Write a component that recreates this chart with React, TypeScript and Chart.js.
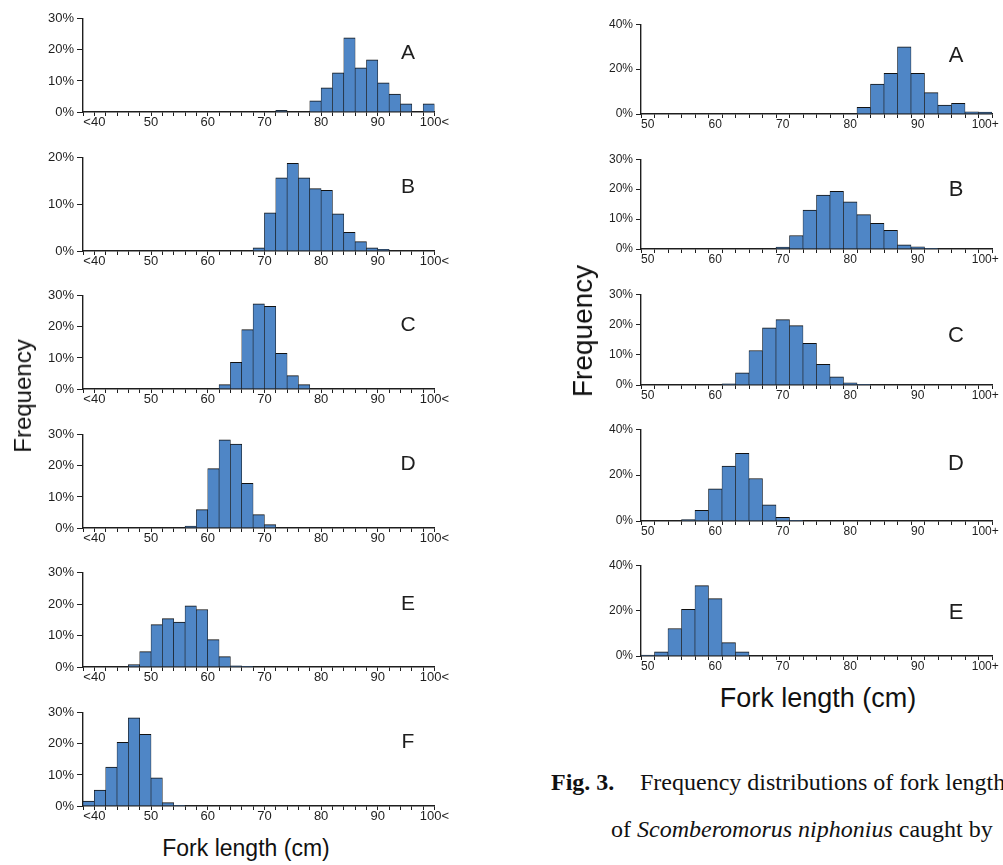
import React, { useEffect, useRef } from 'react';
import { Chart, registerables } from 'chart.js';

Chart.register(...registerables);

// ---------- categories & tick labels ----------
const leftCategories = ['<40', '42', '44', '46', '48', '50', '52', '54', '56', '58', '60', '62', '64', '66', '68', '70', '72', '74', '76', '78', '80', '82', '84', '86', '88', '90', '92', '94', '96', '98', '100'];
const leftTickLabels = ['<40', '50', '60', '70', '80', '90', '100<'];
const rightCategories = ['50', '52', '54', '56', '58', '60', '62', '64', '66', '68', '70', '72', '74', '76', '78', '80', '82', '84', '86', '88', '90', '92', '94', '96', '98', '100+'];
const rightTickLabels = ['50', '60', '70', '80', '90', '100+'];

// ---------- left column series (%), 31 bins ----------
const leftA = [0, 0, 0, 0, 0, 0, 0, 0, 0, 0, 0, 0, 0, 0, 0, 0, 0, 0.5, 0, 0, 3.6, 7.8, 12.6, 23.9, 14.2, 16.8, 9.4, 5.8, 2.6, 0, 2.6];
const leftB = [0, 0, 0, 0, 0, 0, 0, 0, 0, 0, 0, 0, 0, 0, 0, 0.7, 8.2, 15.7, 18.8, 15.7, 13.4, 13.0, 8.0, 4.0, 2.0, 0.7, 0.35, 0, 0, 0, 0];
const leftC = [0, 0, 0, 0, 0, 0, 0, 0, 0, 0, 0, 0, 1.4, 8.6, 19.1, 27.4, 26.6, 11.5, 4.3, 1.4, 0, 0, 0, 0, 0, 0, 0, 0, 0, 0, 0];
const leftD = [0, 0, 0, 0, 0, 0, 0, 0, 0, 0.6, 5.9, 19.1, 28.4, 27.0, 14.4, 4.3, 1.1, 0, 0, 0, 0, 0, 0, 0, 0, 0, 0, 0, 0, 0, 0];
const leftE = [0, 0, 0, 0, 0.8, 4.9, 13.5, 15.4, 14.3, 19.5, 18.3, 8.7, 3.3, 0.4, 0.2, 0, 0, 0, 0, 0, 0, 0, 0, 0, 0, 0, 0, 0, 0, 0, 0];
const leftF = [1.6, 5.1, 12.5, 20.5, 28.4, 23.1, 9.1, 1.1, 0.2, 0, 0, 0, 0, 0, 0, 0, 0, 0, 0, 0, 0, 0, 0, 0, 0, 0, 0, 0, 0, 0, 0];

// ---------- right column series (%), 26 bins ----------
const rightA = [0, 0, 0, 0, 0, 0, 0, 0, 0, 0, 0, 0, 0, 0, 0, 0, 3.0, 13.3, 18.1, 29.9, 18.1, 9.5, 4.0, 4.7, 1.0, 0.9];
const rightB = [0, 0, 0, 0, 0, 0, 0, 0, 0, 0, 0.6, 4.5, 13.0, 18.0, 19.3, 15.8, 11.5, 8.6, 6.2, 1.4, 0.7, 0.2, 0, 0, 0, 0];
const rightC = [0, 0, 0, 0, 0, 0, 0.4, 4.0, 11.4, 18.9, 21.6, 19.6, 13.8, 6.8, 2.7, 0.7, 0.2, 0, 0, 0, 0, 0, 0, 0, 0, 0];
const rightD = [0, 0, 0, 0.6, 4.7, 14.0, 23.9, 29.5, 18.5, 7.0, 1.6, 0.3, 0, 0, 0, 0, 0, 0, 0, 0, 0, 0, 0, 0, 0, 0];
const rightE = [0.4, 1.8, 12.1, 20.6, 31.0, 25.3, 5.9, 1.8, 0, 0, 0, 0, 0, 0, 0, 0, 0, 0, 0, 0, 0, 0, 0, 0, 0, 0];

const SANS = "'Liberation Sans', Arial, sans-serif";
const SERIF = "'Liberation Serif', 'Times New Roman', serif";
const BAR_FILL = '#4f86c6';
const INK = '#1e1e1e';

type Side = 'L' | 'R';
interface Panel {
  side: Side;
  values: number[];
  yMax: number;
  yStep: number;
  top: number;
  bottom: number;
  letter: string;
  letterY: number;
}

const SIDE = {
  L: { left: 0, width: 452, yw: 83, padRight: 17.5, font: 13, xTick: 4, yTick: 6, letterX: 408, letterSize: 21 },
  R: { left: 581, width: 422, yw: 60, padRight: 11, font: 12, xTick: 4, yTick: 5, letterX: 956, letterSize: 22 },
};
const PT = 10;
const XH = 24;

const panels: Panel[] = [
  { side: 'L', values: leftA, yMax: 30, yStep: 10, top: 18, bottom: 112, letter: 'A', letterY: 51 },
  { side: 'L', values: leftB, yMax: 20, yStep: 10, top: 157, bottom: 251, letter: 'B', letterY: 185 },
  { side: 'L', values: leftC, yMax: 30, yStep: 10, top: 295, bottom: 389, letter: 'C', letterY: 323 },
  { side: 'L', values: leftD, yMax: 30, yStep: 10, top: 434, bottom: 528, letter: 'D', letterY: 462 },
  { side: 'L', values: leftE, yMax: 30, yStep: 10, top: 572, bottom: 667, letter: 'E', letterY: 602 },
  { side: 'L', values: leftF, yMax: 30, yStep: 10, top: 712, bottom: 806, letter: 'F', letterY: 740 },
  { side: 'R', values: rightA, yMax: 40, yStep: 20, top: 24, bottom: 114, letter: 'A', letterY: 55 },
  { side: 'R', values: rightB, yMax: 30, yStep: 10, top: 159, bottom: 249, letter: 'B', letterY: 189 },
  { side: 'R', values: rightC, yMax: 30, yStep: 10, top: 294, bottom: 385, letter: 'C', letterY: 335 },
  { side: 'R', values: rightD, yMax: 40, yStep: 20, top: 429, bottom: 521, letter: 'D', letterY: 463 },
  { side: 'R', values: rightE, yMax: 40, yStep: 20, top: 565, bottom: 656, letter: 'E', letterY: 612 },
];

function Histogram({ p }: { p: Panel }) {
  const ref = useRef<HTMLCanvasElement | null>(null);
  const s = SIDE[p.side];
  const cats = p.side === 'L' ? leftCategories : rightCategories;
  const tickLabels = p.side === 'L' ? leftTickLabels : rightTickLabels;

  useEffect(() => {
    if (!ref.current) return;
    const chart = new Chart(ref.current, {
      type: 'bar',
      data: {
        labels: cats,
        datasets: [
          {
            data: p.values,
            backgroundColor: BAR_FILL,
            borderColor: '#111',
            borderWidth: { top: 1, left: 0.6, right: 0.6, bottom: 0 } as any,
            borderSkipped: false as any,
            barPercentage: 1,
            categoryPercentage: 1,
          },
        ],
      },
      options: {
        animation: false,
        responsive: true,
        maintainAspectRatio: false,
        layout: { padding: { top: PT, right: s.padRight, bottom: 0, left: 0 } },
        plugins: { legend: { display: false }, tooltip: { enabled: false }, title: { display: false } },
        scales: {
          x: {
            type: 'category',
            offset: true,
            afterFit: (scale: any) => {
              scale.height = XH;
            },
            grid: {
              offset: true,
              drawOnChartArea: false,
              drawTicks: true,
              tickLength: s.xTick,
              color: INK,
              lineWidth: 1,
            },
            border: { display: true, color: INK, width: 1.4 },
            ticks: {
              autoSkip: false,
              maxRotation: 0,
              minRotation: 0,
              padding: -1,
              labelOffset: p.side === 'L' ? 351.2 / 31 / 2 : 0,
              color: INK,
              font: { family: SANS, size: s.font },
              callback: (_v: any, i: number) => (i % 5 === 0 ? tickLabels[i / 5] : ''),
            },
          },
          y: {
            min: 0,
            max: p.yMax,
            afterFit: (scale: any) => {
              scale.width = s.yw;
            },
            grid: {
              drawOnChartArea: false,
              drawTicks: true,
              tickLength: s.yTick,
              color: INK,
              lineWidth: 1,
            },
            border: { display: true, color: INK, width: 1.4 },
            ticks: {
              stepSize: p.yStep,
              padding: 3,
              color: INK,
              font: { family: SANS, size: s.font },
              callback: (v: any) => `${v}%`,
            },
          },
        },
      },
    });
    return () => chart.destroy();
  }, []);

  const boxTop = p.top - PT;
  const boxH = p.bottom - p.top + PT + XH;
  return (
    <>
      <div style={{ position: 'absolute', left: s.left, top: boxTop, width: s.width, height: boxH }}>
        <canvas ref={ref} />
      </div>
      <div
        style={{
          position: 'absolute',
          left: s.letterX,
          top: p.letterY,
          transform: 'translate(-50%, -50%)',
          fontFamily: SANS,
          fontSize: s.letterSize,
          lineHeight: 1,
          color: INK,
        }}
      >
        {p.letter}
      </div>
    </>
  );
}

const centered = (x: number, y: number, size: number, rotate = false): React.CSSProperties => ({
  position: 'absolute',
  left: x,
  top: y,
  transform: rotate ? 'translate(-50%, -50%) rotate(-90deg)' : 'translate(-50%, -50%)',
  fontFamily: SANS,
  fontSize: size,
  lineHeight: 1,
  whiteSpace: 'nowrap',
  color: '#111',
});

const captionStyle = (left: number, top: number): React.CSSProperties => ({
  position: 'absolute',
  left,
  top,
  fontFamily: SERIF,
  fontSize: 24,
  lineHeight: '24px',
  whiteSpace: 'nowrap',
  color: '#111',
});

export default function App() {
  return (
    <div
      style={{
        position: 'absolute',
        left: 0,
        top: 0,
        width: 1003,
        height: 865,
        overflow: 'hidden',
        background: '#ffffff',
      }}
    >
      {panels.map((p, i) => (
        <Histogram key={i} p={p} />
      ))}
      <div style={centered(23, 396, 24, true)}>Frequency</div>
      <div style={centered(246, 848, 23)}>Fork length (cm)</div>
      <div style={centered(583, 331, 28, true)}>Frequency</div>
      <div style={centered(818, 698, 27)}>Fork length (cm)</div>
      <div style={captionStyle(551, 770)}>
        <b>Fig. 3.</b>
      </div>
      <div style={captionStyle(640, 770)}>Frequency distributions of fork length</div>
      <div style={captionStyle(611, 817)}>
        of <i>Scomberomorus niphonius</i> caught by
      </div>
    </div>
  );
}
